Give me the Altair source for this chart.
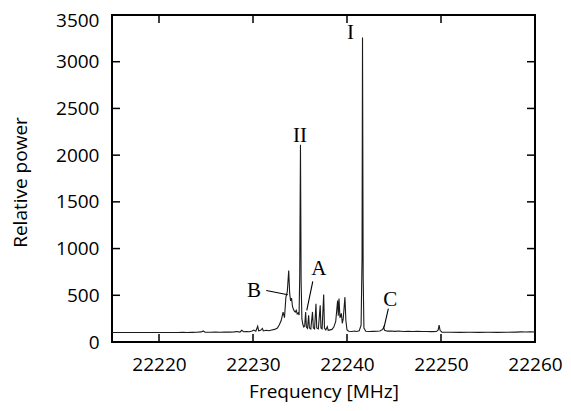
import altair as alt
import pandas as pd

# Spectrum (frequency in MHz, relative power)
freq = [22215.0, 22215.5, 22216.0, 22216.5, 22217.0, 22217.5, 22218.0, 22218.5, 22219.0, 22219.5,
        22220.0, 22220.5, 22221.0, 22221.5, 22222.0, 22222.5, 22223.0, 22223.5, 22224.0, 22224.5,
        22224.7, 22224.9, 22225.5, 22226.0, 22226.5, 22227.0, 22227.5, 22228.0, 22228.3, 22228.6,
        22228.8, 22229.0, 22229.3, 22229.6, 22229.9, 22230.1, 22230.3, 22230.5, 22230.6, 22230.8,
        22231.0, 22231.1, 22231.4, 22231.7, 22232.0, 22232.3, 22232.6, 22232.8, 22233.0, 22233.2,
        22233.35, 22233.5, 22233.65, 22233.8, 22233.9, 22234.0, 22234.1, 22234.2, 22234.3, 22234.4,
        22234.5, 22234.6, 22234.7, 22234.8, 22234.9, 22234.97, 22235.05, 22235.12, 22235.2, 22235.3,
        22235.4, 22235.5, 22235.6, 22235.68, 22235.8, 22235.92, 22236.0, 22236.15, 22236.33, 22236.42,
        22236.55, 22236.7, 22236.78, 22236.95, 22237.15, 22237.23, 22237.35, 22237.52, 22237.6, 22237.75,
        22237.9, 22238.0, 22238.2, 22238.4, 22238.6, 22238.8, 22239.0, 22239.07, 22239.15, 22239.25,
        22239.4, 22239.5, 22239.6, 22239.78, 22239.88, 22240.0, 22240.2, 22240.5, 22240.8, 22241.0,
        22241.3, 22241.5, 22241.6, 22241.65, 22241.72, 22241.8, 22242.0, 22242.4, 22242.8, 22243.2,
        22243.5, 22243.8, 22243.9, 22244.0, 22244.3, 22244.7, 22245.1, 22245.5, 22246.0, 22246.5,
        22247.0, 22247.5, 22248.0, 22248.5, 22249.0, 22249.5, 22249.7, 22249.8, 22249.9, 22250.1,
        22250.5, 22251.0, 22252.0, 22253.0, 22254.0, 22255.0, 22256.0, 22257.0, 22258.0, 22258.5,
        22259.0, 22259.5, 22260.0]
power = [102, 101, 102, 101, 102, 101, 102, 101, 102, 102,
         101, 102, 102, 101, 102, 103, 102, 103, 104, 108,
         118, 104, 105, 106, 104, 107, 106, 108, 112, 106,
         125, 110, 113, 110, 118, 128, 115, 168, 120, 125,
         145, 118, 125, 120, 128, 135, 150, 185, 230, 320,
         260, 480, 540, 764, 520, 440, 470, 380, 350, 330,
         320, 340, 300, 310, 290, 700, 2110, 650, 250, 190,
         160, 170, 322, 160, 145, 286, 150, 140, 322, 150,
         140, 410, 150, 140, 392, 150, 140, 509, 150, 130,
         165, 125, 130, 135, 160, 220, 445, 280, 464, 260,
         307, 200, 250, 480, 230, 130, 115, 112, 118, 112,
         120, 180, 900, 3260, 700, 150, 115, 112, 114, 115,
         118, 135, 159, 125, 116, 118, 114, 117, 113, 115,
         112, 114, 112, 113, 111, 112, 130, 180, 125, 105,
         104, 104, 103, 104, 103, 104, 103, 104, 106, 108,
         107, 108, 107]

# Peak labels
labels = ["I", "II", "A", "B", "C"]
label_x = [22240.36, 22235.0, 22237.0, 22230.1, 22244.6]
label_y = [3304, 2206, 785, 551, 445]

# Leader lines (B, A, C)
lead_x = [22231.41, 22236.36, 22244.40]
lead_y = [551, 650, 357]
lead_x2 = [22233.71, 22235.72, 22243.94]
lead_y2 = [506, 339, 156]

x_ticks = [22220, 22230, 22240, 22250, 22260]
y_ticks = [0, 500, 1000, 1500, 2000, 2500, 3000, 3500]
x_inner = [22220, 22230, 22240, 22250]
y_inner = [500, 1000, 1500, 2000, 2500, 3000]

W, H = 423, 327
TL = 8

spec = pd.DataFrame({"f": freq, "p": power})
lab = pd.DataFrame({"t": labels, "x": label_x, "y": label_y})
lead = pd.DataFrame({"x": lead_x, "y": lead_y, "x2": lead_x2, "y2": lead_y2})
xt = pd.DataFrame({"v": x_inner})
yt = pd.DataFrame({"v": y_inner})

xs = alt.Scale(domain=[22215, 22260], nice=False, zero=False)
ys = alt.Scale(domain=[0, 3500], nice=False)

line = alt.Chart(spec).mark_line(color="#1a1a1a", strokeWidth=1.1).encode(
    x=alt.X("f:Q", scale=xs, title="Frequency [MHz]",
            axis=alt.Axis(values=x_ticks, format="d", grid=False, ticks=False, tickSize=0,
                          domain=False, labelPadding=13, labelFlush=False, labelOverlap=False,
                          titleY=55, titleBaseline="alphabetic")),
    y=alt.Y("p:Q", scale=ys, title="Relative power",
            axis=alt.Axis(values=y_ticks, format="d", grid=False, ticks=False, tickSize=0,
                          domain=False, labelPadding=13, labelFlush=False, labelOverlap=False,
                          labelOffset={"condition": {"test": "datum.value == 3500", "value": 5},
                                       "value": 0},
                          titleX=-86, titleY=167, titleBaseline="alphabetic")),
)

bt = alt.Chart(xt).mark_rule(color="black", strokeWidth=1.5).encode(
    x=alt.X("v:Q", scale=xs), y=alt.value(H), y2=alt.value(H - TL))
tt = alt.Chart(xt).mark_rule(color="black", strokeWidth=1.5).encode(
    x=alt.X("v:Q", scale=xs), y=alt.value(0), y2=alt.value(TL))
lt = alt.Chart(yt).mark_rule(color="black", strokeWidth=1.5).encode(
    y=alt.Y("v:Q", scale=ys), x=alt.value(0), x2=alt.value(TL))
rt = alt.Chart(yt).mark_rule(color="black", strokeWidth=1.5).encode(
    y=alt.Y("v:Q", scale=ys), x=alt.value(W), x2=alt.value(W - TL))

leaders = alt.Chart(lead).mark_rule(color="black", strokeWidth=1.1).encode(
    x=alt.X("x:Q", scale=xs), y=alt.Y("y:Q", scale=ys),
    x2="x2:Q", y2="y2:Q")

texts = alt.Chart(lab).mark_text(font="Liberation Serif", fontSize=21, color="black",
                                 baseline="middle", align="center").encode(
    x=alt.X("x:Q", scale=xs), y=alt.Y("y:Q", scale=ys), text="t:N")

chart = alt.layer(line, leaders, texts, bt, tt, lt, rt).properties(
    width=W, height=H,
    autosize=alt.AutoSizeParams(type="none"),
    padding={"left": 104, "top": 7, "right": 28, "bottom": 60},
).configure_view(
    stroke="black", strokeWidth=2
).configure_axis(
    labelFont="Open Sans", labelFontSize=19, labelColor="black",
    titleFont="Open Sans", titleFontSize=19, titleColor="black", titleFontWeight="normal",
)

chart.save("out.html", embed_options={"renderer": "svg", "actions": False})
